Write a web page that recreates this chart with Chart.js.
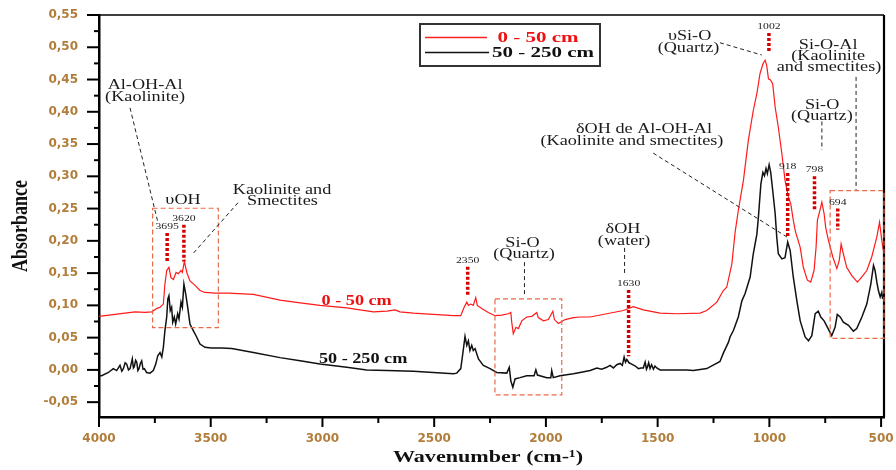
<!DOCTYPE html>
<html>
<head>
<meta charset="utf-8">
<script src="https://cdn.jsdelivr.net/npm/chart.js@4.4.1/dist/chart.umd.min.js"></script>
<style>
  body { margin: 0; background: #fff; }
  canvas { display: block; }
</style>
</head>
<body>
<canvas id="ftir" width="896" height="470"></canvas>
<script>
// FTIR spectra of the two soil layers (absorbance vs wavenumber)
const waveTop = [4000, 3973, 3928, 3884, 3839, 3794, 3764, 3742, 3727, 3712, 3705, 3697, 3687, 3678, 3667, 3655, 3645, 3633, 3627, 3618,
    3607, 3593, 3570, 3548, 3526, 3481, 3421, 3309, 3190, 3100, 3011, 2891, 2832, 2772, 2712, 2675, 2653, 2593, 2504, 2414,
    2381, 2366, 2354, 2347, 2336, 2325, 2314, 2307, 2287, 2258, 2228, 2198, 2168, 2157, 2153, 2146, 2134, 2123, 2108, 2086,
    2063, 2041, 2034, 2011, 1989, 1969, 1962, 1944, 1914, 1877, 1847, 1802, 1728, 1653, 1609, 1564, 1489, 1414, 1310, 1280,
    1235, 1206, 1191, 1168, 1153, 1139, 1116, 1094, 1072, 1056, 1042, 1029, 1019, 1012, 1004, 994, 985, 974, 960, 944,
    930, 915, 904, 893, 883, 862, 848, 830, 815, 800, 791, 785, 776, 765, 755, 748, 736, 716, 698, 687,
    679, 669, 654, 631, 606, 586, 564, 542, 519, 507, 497, 490];
const absTop = [0.083, 0.084, 0.086, 0.088, 0.090, 0.089, 0.090, 0.095, 0.097, 0.102, 0.133, 0.154, 0.159, 0.143, 0.140, 0.151, 0.149, 0.154, 0.151, 0.168,
    0.151, 0.138, 0.131, 0.123, 0.120, 0.119, 0.119, 0.117, 0.108, 0.104, 0.100, 0.096, 0.093, 0.090, 0.091, 0.093, 0.090, 0.088, 0.086, 0.084,
    0.084, 0.097, 0.105, 0.100, 0.102, 0.100, 0.112, 0.100, 0.095, 0.089, 0.084, 0.085, 0.087, 0.089, 0.074, 0.056, 0.066, 0.064, 0.076, 0.082,
    0.083, 0.089, 0.081, 0.076, 0.078, 0.091, 0.078, 0.072, 0.078, 0.081, 0.082, 0.082, 0.087, 0.092, 0.098, 0.093, 0.088, 0.087, 0.088, 0.092,
    0.105, 0.123, 0.128, 0.164, 0.214, 0.247, 0.294, 0.356, 0.402, 0.428, 0.459, 0.474, 0.480, 0.472, 0.451, 0.449, 0.443, 0.407, 0.376, 0.335,
    0.294, 0.268, 0.257, 0.232, 0.214, 0.190, 0.159, 0.139, 0.136, 0.154, 0.190, 0.232, 0.244, 0.260, 0.242, 0.221, 0.201, 0.175, 0.157, 0.170,
    0.195, 0.180, 0.159, 0.146, 0.136, 0.144, 0.154, 0.175, 0.206, 0.229, 0.201, 0.185];

const waveDeep = [4000, 3988, 3958, 3936, 3921, 3906, 3898, 3891, 3883, 3876, 3868, 3861, 3851, 3846, 3842, 3836, 3831, 3826, 3821, 3815,
    3809, 3803, 3797, 3787, 3772, 3757, 3746, 3737,
    3727, 3719, 3712, 3705, 3697, 3692, 3687, 3681, 3675, 3670, 3663, 3657, 3648, 3642, 3633, 3627, 3620, 3612, 3603, 3593,
    3578, 3563, 3548, 3526, 3496, 3451, 3406, 3309, 3190, 3100, 3011, 2891, 2802, 2712, 2593, 2504, 2414, 2399, 2381, 2372,
    2362, 2354, 2347, 2340, 2332, 2325, 2317, 2302, 2280, 2250, 2220, 2175, 2164, 2157, 2148, 2138, 2116, 2086, 2053, 2045,
    2038, 1996, 1978, 1974, 1967, 1937, 1877, 1847, 1802, 1772, 1750, 1728, 1713, 1698, 1683, 1668, 1658, 1650, 1644, 1638,
    1628, 1616, 1600, 1586, 1575, 1564, 1556, 1550, 1546, 1540, 1534, 1527, 1519, 1512, 1504, 1489, 1444, 1370, 1340, 1280,
    1243, 1221, 1206, 1183, 1176, 1161, 1139, 1123, 1109, 1086, 1072,
    1056, 1049, 1038, 1029, 1022, 1015, 1009, 1001, 994, 985, 974, 967, 960, 944, 930, 918, 907, 893, 877, 862,
    840, 825, 810, 795, 781, 770, 755, 740, 721, 706, 696, 683, 669, 646, 624, 609, 586, 564, 546, 534,
    527, 519, 512, 504, 497, 493];
const absDeep = [-0.009, -0.009, -0.004, 0.002, -0.001, 0.007, -0.002, 0.002, 0.011, 0.009, 0.000, 0.002, 0.017, 0.003, 0.005, 0.015, 0.012, -0.001, 0.002, 0.010,
    0.014, 0.001, 0.002, -0.004, -0.005, -0.001, 0.009, 0.022,
    0.027, 0.020, 0.035, 0.061, 0.082, 0.110, 0.115, 0.092, 0.097, 0.074, 0.082, 0.071, 0.087, 0.079, 0.105, 0.097, 0.133, 0.118, 0.097, 0.071,
    0.061, 0.051, 0.040, 0.035, 0.034, 0.034, 0.033, 0.027, 0.019, 0.014, 0.009, 0.004, 0.000, -0.001, -0.002, -0.004, -0.006, -0.005, 0.002, 0.025,
    0.052, 0.038, 0.045, 0.030, 0.038, 0.030, 0.033, 0.017, 0.007, 0.002, -0.004, -0.005, 0.004, -0.017, -0.027, -0.014, -0.012, -0.009, -0.009, 0.000,
    -0.008, -0.012, -0.012, -0.001, -0.012, -0.009, -0.006, -0.004, -0.001, 0.003, 0.001, 0.004, 0.007, 0.003, 0.008, 0.010, 0.007, 0.020, 0.012, 0.016,
    0.011, 0.009, 0.006, 0.002, 0.003, 0.003, 0.012, 0.001, 0.004, 0.011, 0.002, 0.008, 0.001, 0.006, 0.003, 0.000, 0.000, 0.000, -0.001, 0.002,
    0.009, 0.013, 0.026, 0.043, 0.051, 0.061, 0.082, 0.107, 0.118, 0.144, 0.180,
    0.210, 0.237, 0.288, 0.306, 0.301, 0.312, 0.304, 0.318, 0.306, 0.278, 0.242, 0.206, 0.180, 0.172, 0.174, 0.198, 0.185, 0.144, 0.107, 0.076,
    0.051, 0.045, 0.053, 0.087, 0.091, 0.082, 0.076, 0.066, 0.053, 0.066, 0.086, 0.082, 0.074, 0.069, 0.060, 0.064, 0.082, 0.102, 0.133, 0.162,
    0.154, 0.136, 0.123, 0.113, 0.120, 0.110];

const xTicks = [4000, 3500, 3000, 2500, 2000, 1500, 1000, 500];
const yTicks = [-0.05, 0, 0.05, 0.10, 0.15, 0.20, 0.25, 0.30, 0.35, 0.40, 0.45, 0.50, 0.55];

// band assignments: [text, wavenumber, absorbance of baseline]
const notes = [
    ["Al-OH-Al", 3794, 0.435], ["(Kaolinite)", 3794, 0.417],
    ["υOH", 3624, 0.257],
    ["Kaolinite and", 3181, 0.273], ["Smectites", 3179, 0.256],
    ["Si-O", 2105, 0.191], ["(Quartz)", 2098, 0.173],
    ["δOH", 1655, 0.212], ["(water)", 1650, 0.194],
    ["δOH de Al-OH-Al", 1561, 0.367], ["(Kaolinite and smectites)", 1615, 0.349],
    ["υSi-O", 1357, 0.512], ["(Quartz)", 1362, 0.493],
    ["Si-O-Al", 737, 0.498], ["(Kaolinite", 737, 0.480], ["and smectites)", 733, 0.463],
    ["Si-O", 764, 0.405], ["(Quartz)", 765, 0.387]
];
// leader lines [wn1, a1, wn2, a2]
const leaders = [
    [3861, 0.406, 3736, 0.228], [3378, 0.259, 3585, 0.178],
    [2096, 0.167, 2096, 0.115], [1648, 0.189, 1648, 0.146],
    [1520, 0.336, 912, 0.204], [1221, 0.507, 1034, 0.488],
    [612, 0.454, 612, 0.279], [765, 0.385, 765, 0.341]
];
// peak marks [wavenumber, top, bottom]
const peaks = [
    [3695, 0.212, 0.167], [3620, 0.225, 0.168], [2350, 0.160, 0.116], [1630, 0.124, 0.021],
    [1002, 0.522, 0.491], [918, 0.305, 0.206], [798, 0.300, 0.247], [694, 0.250, 0.217]
];
// dashed regions [wn1, a1, wn2, a2]
const regions = [[3760, 0.2505, 3466, 0.0654], [2228, 0.110, 1929, -0.0388], [728, 0.2777, 487, 0.049]];

const SX = 1.3; // horizontal stretch of the serif lettering

function points(xs, ys) {
    let out = [];
    for (let i = 0; i < xs.length; i++) out.push({ x: xs[i], y: ys[i] });
    return out;
}

function wideText(ctx, text, x, y, font, color, sx) {
    ctx.save();
    ctx.translate(x, y);
    ctx.scale(sx || SX, 1);
    ctx.font = font;
    ctx.fillStyle = color;
    ctx.textAlign = 'center';
    ctx.textBaseline = 'alphabetic';
    ctx.fillText(text, 0, 0);
    ctx.restore();
}

function segment(ctx, x1, y1, x2, y2) {
    ctx.beginPath();
    ctx.moveTo(x1, y1);
    ctx.lineTo(x2, y2);
    ctx.stroke();
}

const decorations = {
    id: 'decorations',
    afterDatasetsDraw(chart) {
        const ctx = chart.ctx;
        const xs = chart.scales.x, ys = chart.scales.y;
        const X = v => xs.getPixelForValue(v), Y = v => ys.getPixelForValue(v);
        const area = chart.chartArea;

        ctx.save();
        // frame top and right
        ctx.strokeStyle = '#000';
        ctx.lineWidth = 1.6;
        segment(ctx, area.left, area.top, area.right, area.top);
        ctx.lineWidth = 2.2;
        segment(ctx, area.right, area.top, area.right, area.bottom);

        // tick marks (major + minor)
        ctx.lineWidth = 2;
        for (let v = 4000; v >= 500; v -= 250) {
            const len = v % 500 === 0 ? 10 : 6;
            segment(ctx, X(v), area.bottom, X(v), area.bottom + len);
        }
        for (let k = -2; k <= 22; k++) {
            const v = k * 0.025;
            const len = k % 2 === 0 ? 12 : 5;
            segment(ctx, area.left, Y(v), area.left - len, Y(v));
        }

        // dashed regions
        ctx.strokeStyle = '#ec6a4a';
        ctx.lineWidth = 1.2;
        ctx.setLineDash([5, 3]);
        regions.forEach(r => {
            ctx.strokeRect(X(r[0]), Y(r[1]), X(r[2]) - X(r[0]), Y(r[3]) - Y(r[1]));
        });

        // leader lines
        ctx.strokeStyle = '#222';
        ctx.lineWidth = 1;
        ctx.setLineDash([4, 3]);
        leaders.forEach(l => segment(ctx, X(l[0]), Y(l[1]), X(l[2]), Y(l[3])));

        // peak marks with their wavenumber
        ctx.strokeStyle = '#d40000';
        ctx.lineWidth = 3.5;
        ctx.setLineDash([3, 2]);
        peaks.forEach(p => {
            segment(ctx, X(p[0]), Y(p[1]), X(p[0]), Y(p[2]));
            wideText(ctx, String(p[0]), X(p[0]), Y(p[1]) - 4, '9px "Liberation Serif"', '#222');
        });
        ctx.setLineDash([]);

        notes.forEach(n => wideText(ctx, n[0], X(n[1]), Y(n[2]), '14px "Liberation Serif"', '#1a1a1a'));

        // curve labels
        wideText(ctx, '0 - 50 cm', X(2847), Y(0.100), 'bold 14px "Liberation Serif"', '#ee1111');
        wideText(ctx, '50 - 250 cm', X(2818), Y(0.010), 'bold 14px "Liberation Serif"', '#111');

        // legend box
        ctx.strokeStyle = '#333';
        ctx.lineWidth = 2;
        ctx.strokeRect(420, 24, 180, 42);
        ctx.lineWidth = 1.5;
        ctx.strokeStyle = '#ff2020';
        segment(ctx, 425, 37.5, 487, 37.5);
        ctx.strokeStyle = '#111';
        segment(ctx, 425, 52.5, 489, 52.5);
        wideText(ctx, '0 - 50 cm', 538, 42, 'bold 15px "Liberation Serif"', '#ee1111', 1.4);
        wideText(ctx, '50 - 250 cm', 543, 57, 'bold 15px "Liberation Serif"', '#111', 1.4);

        // axis titles
        wideText(ctx, 'Wavenumber (cm-¹)', 488, 462, 'bold 17px "Liberation Serif"', '#111', 1.3);
        ctx.save();
        ctx.translate(27, 226);
        ctx.scale(SX, 1);
        ctx.rotate(-Math.PI / 2);
        ctx.font = 'bold 18px "Liberation Serif"';
        ctx.fillStyle = '#111';
        ctx.textAlign = 'center';
        ctx.fillText('Absorbance', 0, 0);
        ctx.restore();

        ctx.restore();
    }
};

const tickFont = { family: '"DejaVu Sans"', size: 12, weight: 'bold' };
const tickColor = '#b07d3a';

new Chart(document.getElementById('ftir'), {
    type: 'line',
    data: {
        datasets: [
            { label: '0 - 50 cm', data: points(waveTop, absTop), borderColor: '#ff1a1a', borderWidth: 1.2, pointRadius: 0, tension: 0 },
            { label: '50 - 250 cm', data: points(waveDeep, absDeep), borderColor: '#111', borderWidth: 1.5, pointRadius: 0, tension: 0 }
        ]
    },
    options: {
        responsive: false,
        animation: false,
        layout: { padding: { top: 15, right: 12, left: 0, bottom: 0 } },
        scales: {
            x: {
                type: 'linear', reverse: true, min: 487, max: 4000,
                afterBuildTicks: s => { s.ticks = xTicks.map(v => ({ value: v })); },
                afterFit: s => { s.height = 53; s.paddingLeft = 0; s.paddingRight = 0; },
                grid: { display: false, drawTicks: false },
                border: { display: true, color: '#000', width: 2.5 },
                ticks: { font: tickFont, color: tickColor, padding: 15, maxRotation: 0, autoSkip: false, callback: v => String(v) }
            },
            y: {
                min: -0.073, max: 0.55,
                afterBuildTicks: s => { s.ticks = yTicks.map(v => ({ value: v })); },
                afterFit: s => { s.width = 99; s.paddingTop = 0; s.paddingBottom = 0; },
                grid: { display: false, drawTicks: false },
                border: { display: true, color: '#000', width: 2.5 },
                ticks: {
                    font: tickFont, color: tickColor, padding: 21,
                    callback: v => v.toFixed(2).replace('.', ',')
                }
            }
        },
        plugins: { legend: { display: false }, tooltip: { enabled: false } }
    },
    plugins: [decorations]
});
</script>
</body>
</html>
